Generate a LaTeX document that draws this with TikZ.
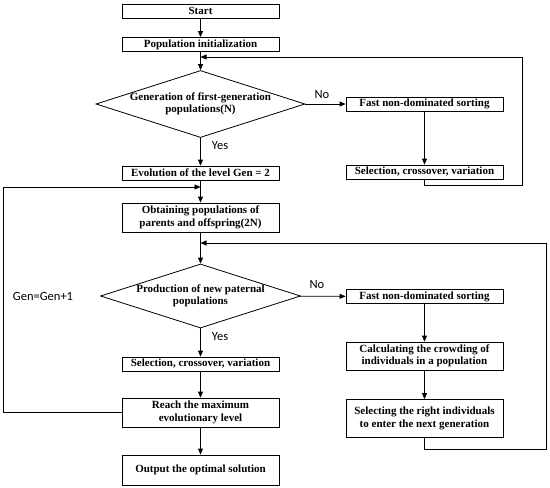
\documentclass[tikz,border=0pt]{standalone}
\usepackage{fontspec}
\setmainfont{Liberation Serif}
\newfontfamily\labelfont{Carlito}
\usetikzlibrary{positioning, arrows.meta, shapes.geometric}

\begin{document}
\begin{tikzpicture}[
    x=1pt, y=-1pt,
    box/.style={draw, line width=0.8pt, minimum width=157pt, minimum height=14pt, inner sep=1pt,
        font=\fontsize{11}{12.5}\selectfont\bfseries, align=center},
    tall box/.style={box, minimum height=29pt},
    decision/.style={diamond, draw, line width=0.8pt, aspect=3.1, inner xsep=-10pt, inner ysep=0pt,
        font=\fontsize{11}{12.5}\selectfont\bfseries, align=center},
    annot/.style={font=\labelfont\fontsize{12.5}{14}\selectfont},
    arrow/.style={-{Triangle[length=6pt, width=5pt]}, line width=0.8pt},
]
\useasboundingbox (0,0) rectangle (550,488);

% --- Column x-positions ---
\def\colL{200.5}
\def\colR{424.5}

% ======= MAIN COLUMN =======
\node[box] (start) at (\colL, 11) {Start};
\node[box] (init) at (\colL, 44.5) {Population initialization};
\node[decision, minimum width=209pt, minimum height=67pt] (gen1) at (\colL, 104)
    {Generation of first-generation\\populations(N)};
\node[box] (evo) at (\colL, 173) {Evolution of the level Gen = 2};
\node[tall box] (obtain) at (\colL, 217.5) {Obtaining populations of\\parents and offspring(2N)};
\node[decision, minimum width=200pt, minimum height=64pt] (prod) at (\colL, 296)
    {Production of new paternal\\populations};
\node[box] (sel2) at (\colL, 364) {Selection, crossover, variation};
\node[tall box] (reach) at (\colL, 412.5) {Reach the maximum\\evolutionary level};
\node[tall box, minimum height=30pt] (out) at (\colL, 470) {Output the optimal solution};

% ======= RIGHT COLUMN =======
\node[box] (sort1) at (\colR, 104) {Fast non-dominated sorting};
\node[box] (sel1) at (\colR, 172) {Selection, crossover, variation};
\node[box] (sort2) at (\colR, 296.5) {Fast non-dominated sorting};
\node[tall box, minimum height=28pt] (crowd) at (\colR, 356) {Calculating the crowding of\\individuals in a population};
\node[tall box, minimum height=38pt] (pick) at (\colR, 418.5) {Selecting the right individuals\\to enter the next generation};

% ======= LOOP CORNERS =======
\coordinate (in1) at (\colL, 57);
\coordinate (back1) at (522, 185);
\coordinate (in2) at (\colL, 187);
\coordinate (left1) at (3, 187);
\coordinate (in3) at (\colL, 243);
\coordinate (back2) at (546, 449);

% ======= CONNECTIONS =======
\draw[arrow] (start) -- (init);
\draw[arrow] (init) -- (gen1);
\draw[arrow] (gen1) -- (sort1);
\draw[arrow] (gen1) -- (evo);
\draw[arrow] (sort1) -- (sel1);
\draw[arrow] (sel1.south) |- (back1) |- (in1);
\draw[arrow] (evo) -- (obtain);
\draw[arrow] (obtain) -- (prod);
\draw[arrow] (prod) -- (sort2);
\draw[arrow] (prod) -- (sel2);
\draw[arrow] (sort2) -- (crowd);
\draw[arrow] (crowd) -- (pick);
\draw[arrow] (pick.south) |- (back2) |- (in3);
\draw[arrow] (sel2) -- (reach);
\draw[arrow] (reach) -- (out);
\draw[arrow] (reach.west) -| (left1) -- (in2);

% ======= LABELS =======
\node[annot] (no1) at (322, 95) {No};
\node[annot] (yes1) at (220, 146) {Yes};
\node[annot] (no2) at (317, 285) {No};
\node[annot] (yes2) at (220, 337) {Yes};
\node[annot] (gen) at (43, 296) {Gen=Gen+1};

\end{tikzpicture}
\end{document}
